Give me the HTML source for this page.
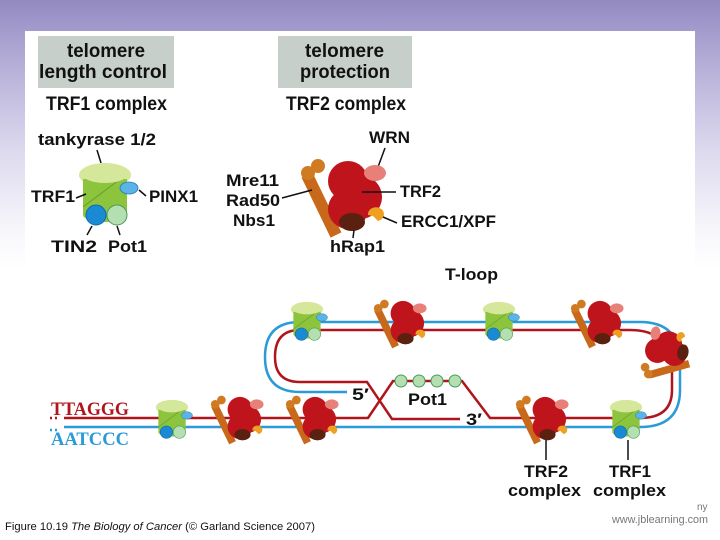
<!DOCTYPE html>
<html><head><meta charset="utf-8"><style>
html,body{margin:0;padding:0;}
body{width:720px;height:540px;overflow:hidden;position:relative;background:linear-gradient(#938ac2 0px,#b3acd6 60px,#dcd9ee 150px,#f7f6fb 230px,#fff 270px);font-family:"Liberation Sans",sans-serif;}
#panel{position:absolute;left:25px;top:31px;width:670px;height:470px;background:#fff;}
svg{position:absolute;left:0;top:0;}
text{font-family:"Liberation Sans",sans-serif;font-weight:bold;font-size:17px;fill:#111;}
.h{font-size:19px;}
</style></head><body>
<div id="panel"></div>
<svg width="720" height="540" viewBox="0 0 720 540">
<defs>
<g id="t1">
 <ellipse cx="0" cy="-22" rx="26" ry="12" fill="#d4e79a"/>
 <rect x="-22" y="-18" width="44" height="36" fill="#8cc43e"/>
 <ellipse cx="0" cy="18" rx="22" ry="7" fill="#8cc43e"/>
 <path d="M-22 10 L18 -20" stroke="#6a9a2a" stroke-width="1"/>
 <ellipse cx="0" cy="-22" rx="22" ry="8" fill="#d4e79a"/>
 <ellipse cx="24" cy="-9" rx="9" ry="6" fill="#5ab4e8" stroke="#2a7ab0" stroke-width="0.8"/>
 <circle cx="-9" cy="18" r="10" fill="#1a8ad4" stroke="#0e6aa8"/>
 <circle cx="12" cy="18" r="10" fill="#b4dfb0" stroke="#4a9a5a"/>
</g>
<g id="t2">
 <line x1="-41" y1="-20" x2="-12" y2="40" stroke="#c8681a" stroke-width="12"/>
 <circle cx="-40" cy="-22" r="7" fill="#d07a22"/><circle cx="-30" cy="-29" r="7" fill="#d07a22"/>
 <circle cx="0" cy="-14" r="20" fill="#c0141c"/>
 <circle cx="12" cy="2" r="22" fill="#c0141c"/>
 <circle cx="0" cy="14" r="20" fill="#c0141c"/>
 <ellipse cx="4" cy="27" rx="13" ry="9" fill="#5a2010"/>
 <ellipse cx="27" cy="-22" rx="11" ry="8" fill="#e8807a"/>
 <path d="M20 20 a8 7 0 1 1 10 6 l-5 -5z" fill="#f0a020"/>
</g>
</defs>

<rect x="38" y="36" width="136" height="52" fill="#c7cfca"/>
<rect x="278" y="36" width="134" height="52" fill="#c7cfca"/>
<text class="h" x="67" y="57" textLength="78" lengthAdjust="spacingAndGlyphs">telomere</text>
<text class="h" x="39" y="78" textLength="128" lengthAdjust="spacingAndGlyphs">length control</text>
<text class="h" x="305" y="57" textLength="79" lengthAdjust="spacingAndGlyphs">telomere</text>
<text class="h" x="300" y="78" textLength="90" lengthAdjust="spacingAndGlyphs">protection</text>
<text class="h" x="46" y="110" textLength="121" lengthAdjust="spacingAndGlyphs">TRF1 complex</text>
<text class="h" x="286" y="110" textLength="120" lengthAdjust="spacingAndGlyphs">TRF2 complex</text>

<text x="38" y="145" textLength="118" lengthAdjust="spacingAndGlyphs">tankyrase 1/2</text>
<line x1="97" y1="150" x2="101" y2="163" stroke="#111" stroke-width="1.5"/>
<use href="#t1" transform="translate(105,197)"/>
<text x="31" y="202" textLength="44" lengthAdjust="spacingAndGlyphs">TRF1</text>
<line x1="76" y1="198" x2="86" y2="194" stroke="#111" stroke-width="1.5"/>
<text x="149" y="202" textLength="49" lengthAdjust="spacingAndGlyphs">PINX1</text>
<line x1="146" y1="196" x2="139" y2="190" stroke="#111" stroke-width="1.5"/>
<line x1="92" y1="226" x2="87" y2="235" stroke="#111" stroke-width="1.5"/>
<line x1="117" y1="226" x2="120" y2="235" stroke="#111" stroke-width="1.5"/>
<text x="51" y="252" textLength="46" lengthAdjust="spacingAndGlyphs">TIN2</text>
<text x="108" y="252" textLength="39" lengthAdjust="spacingAndGlyphs">Pot1</text>

<text x="369" y="143" textLength="41" lengthAdjust="spacingAndGlyphs">WRN</text>
<line x1="385" y1="148" x2="378" y2="167" stroke="#111" stroke-width="1.5"/>
<use href="#t2" transform="translate(348,195)"/>
<text x="226" y="186" textLength="53" lengthAdjust="spacingAndGlyphs">Mre11</text>
<text x="226" y="206" textLength="54" lengthAdjust="spacingAndGlyphs">Rad50</text>
<text x="233" y="226" textLength="42" lengthAdjust="spacingAndGlyphs">Nbs1</text>
<line x1="282" y1="198" x2="312" y2="190" stroke="#111" stroke-width="1.5"/>
<text x="400" y="197" textLength="41" lengthAdjust="spacingAndGlyphs">TRF2</text>
<line x1="362" y1="192" x2="396" y2="192" stroke="#111" stroke-width="1.5"/>
<text x="401" y="227" textLength="95" lengthAdjust="spacingAndGlyphs">ERCC1/XPF</text>
<line x1="383" y1="217" x2="397" y2="223" stroke="#111" stroke-width="1.5"/>
<line x1="354" y1="230" x2="353" y2="238" stroke="#111" stroke-width="1.5"/>
<text x="330" y="252" textLength="55" lengthAdjust="spacingAndGlyphs">hRap1</text>

<text x="445" y="280" textLength="53" lengthAdjust="spacingAndGlyphs">T-loop</text>

<g fill="none" stroke-width="2.5">
 <path d="M347 392 H300 Q265 392 265 357 Q265 322 300 322 H640 Q680 322 680 362 V390 Q680 427 640 427 H64" stroke="#2a9ad8"/>
 <path d="M50 430 H58" stroke="#2a9ad8" stroke-dasharray="2 3"/>
 <path d="M460 419 H392 L367 382 H300 Q275 382 275 357 Q275 330 300 330 H630 Q672 330 672 372 V390 Q672 418 640 418 H490 L462 381 H393 L368 418 H64" stroke="#b0141c"/>
 <path d="M50 418 H58" stroke="#b0141c" stroke-dasharray="2 3"/>
</g>
<g fill="#b4dfb0" stroke="#4a9a5a">
 <circle cx="401" cy="381" r="6"/><circle cx="419" cy="381" r="6"/><circle cx="437" cy="381" r="6"/><circle cx="455" cy="381" r="6"/>
</g>
<text x="352" y="400" textLength="17" lengthAdjust="spacingAndGlyphs">5′</text>
<text x="408" y="405" textLength="39" lengthAdjust="spacingAndGlyphs">Pot1</text>
<text x="466" y="425" textLength="16" lengthAdjust="spacingAndGlyphs">3′</text>

<use href="#t1" transform="translate(307,323) scale(0.62)"/>
<use href="#t1" transform="translate(499,323) scale(0.62)"/>
<use href="#t1" transform="translate(172,421) scale(0.62)"/>
<use href="#t1" transform="translate(626,421) scale(0.62)"/>
<use href="#t2" transform="translate(403,322) scale(0.62)"/>
<use href="#t2" transform="translate(600,322) scale(0.62)"/>
<use href="#t2" transform="translate(240,418) scale(0.62)"/>
<use href="#t2" transform="translate(315,418) scale(0.62)"/>
<use href="#t2" transform="translate(545,418) scale(0.62)"/>
<use href="#t2" transform="translate(666,352) rotate(-80) scale(0.62)"/>

<text x="51" y="415" style="font-family:'Liberation Serif',serif;fill:#b0141c;font-size:19px" textLength="78" lengthAdjust="spacingAndGlyphs">TTAGGG</text>
<text x="51" y="445" style="font-family:'Liberation Serif',serif;fill:#2a9ad8;font-size:19px" textLength="78" lengthAdjust="spacingAndGlyphs">AATCCC</text>

<line x1="546" y1="440" x2="546" y2="460" stroke="#111" stroke-width="1.5"/>
<line x1="628" y1="440" x2="628" y2="460" stroke="#111" stroke-width="1.5"/>
<text x="524" y="477" textLength="44" lengthAdjust="spacingAndGlyphs">TRF2</text>
<text x="508" y="496" textLength="73" lengthAdjust="spacingAndGlyphs">complex</text>
<text x="609" y="477" textLength="42" lengthAdjust="spacingAndGlyphs">TRF1</text>
<text x="593" y="496" textLength="73" lengthAdjust="spacingAndGlyphs">complex</text>

<text x="697" y="510" style="font-weight:normal;font-size:10px;fill:#777">ny</text>
<text x="612" y="523" style="font-weight:normal;font-size:11px;fill:#777" textLength="96" lengthAdjust="spacingAndGlyphs">www.jblearning.com</text>
<text x="5" y="530" style="font-weight:normal;font-size:11px;fill:#111" textLength="310" lengthAdjust="spacingAndGlyphs">Figure 10.19  <tspan font-style="italic">The Biology of Cancer</tspan> (© Garland Science 2007)</text>
</svg>
</body></html>
